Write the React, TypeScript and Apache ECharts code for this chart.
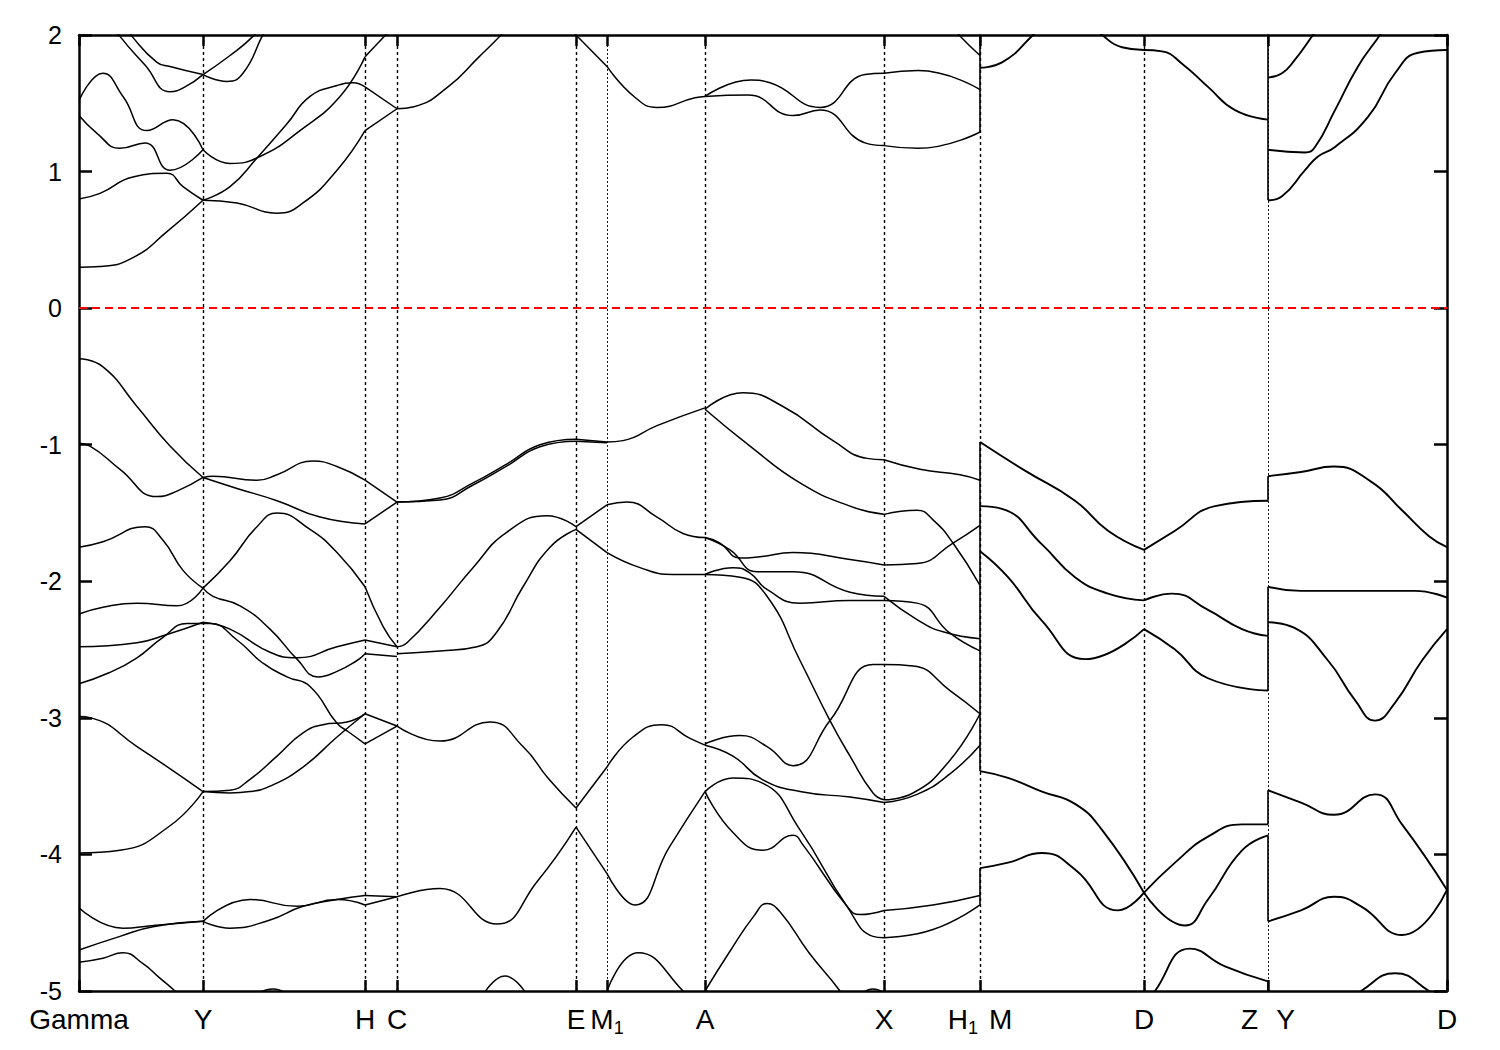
import React, { useEffect, useRef } from "react";
import * as echarts from "echarts";

type Pt = [number, number];

const FONT = "'Liberation Sans', Arial, Helvetica, sans-serif";

// k-path positions of the high-symmetry points and their labels
const kTicks = [0, 124, 286, 318, 497, 528, 626, 805, 901, 1065, 1189, 1368];
const kLabels = ["Gamma", "Y", "H", "C", "E", "M{s|1}", "A", "X", "H{s|1}{g| }M", "D", "Z{g2| }Y", "D"];
const heavyLines = [124, 286, 318, 497, 626, 805, 901, 1065];
const fineLines = [528, 1189];
const energyMin = -5;
const energyMax = 2;
const energyStep = 1;
const fermiLevel = 0;

// ---------- conduction bands ----------
const cbGY1: Pt[] = [[0, 0.3], [21, 0.305], [54, 0.37], [88, 0.56], [124, 0.79], [158, 0.77], [198, 0.695], [224, 0.77], [258, 1.01], [286, 1.3], [318, 1.46], [335, 1.475], [369, 1.62], [400, 1.84], [422, 2.0], [440, 2.15]];
const cbGY2: Pt[] = [[0, 0.8], [21, 0.84], [54, 0.96], [88, 0.987], [104, 0.89], [124, 0.79], [151, 0.89], [178, 1.1], [208, 1.35], [231, 1.55], [258, 1.63], [274, 1.65], [286, 1.62], [318, 1.46]];
const cbGY3: Pt[] = [[0, 1.41], [18, 1.28], [41, 1.17], [66, 1.21], [91, 1.01], [124, 1.16], [151, 1.06], [181, 1.11], [221, 1.3], [261, 1.55], [286, 1.84], [313, 2.05]];
const cbGY4: Pt[] = [[0, 1.52], [24, 1.72], [44, 1.55], [68, 1.3], [94, 1.38], [124, 1.16]];
const cbGY5: Pt[] = [[21, 2.2], [41, 1.99], [66, 1.78], [91, 1.585], [106, 1.62], [124, 1.71], [151, 1.85], [174, 1.99], [186, 2.1]];
const cbGY6: Pt[] = [[45, 2.08], [53, 1.99], [78, 1.8], [91, 1.77], [124, 1.71], [148, 1.66], [164, 1.72], [183, 1.99], [190, 2.1]];
const cbEA: Pt[] = [[480, 2.12], [497, 2.0], [528, 1.77], [555, 1.55], [578, 1.47], [616, 1.54], [626, 1.55]];
const cbAX1: Pt[] = [[626, 1.55], [672, 1.67], [691, 1.65], [741, 1.47], [786, 1.71], [805, 1.72], [839, 1.74], [901, 1.6]];
const cbAX2: Pt[] = [[626, 1.55], [669, 1.56], [714, 1.41], [741, 1.45], [786, 1.21], [805, 1.19], [839, 1.17], [901, 1.29]];
const cbXH: Pt[] = [[874, 2.06], [880, 2.0], [901, 1.85]];
const cbMD1: Pt[] = [[901, 1.76], [923, 1.8], [954, 2.0], [960, 2.06]];
const cbMD2: Pt[] = [[1015, 2.06], [1023, 2.0], [1043, 1.91], [1065, 1.89], [1083, 1.88], [1103, 1.79], [1129, 1.62], [1156, 1.45], [1189, 1.38]];
const cbYD1: Pt[] = [[1189, 1.69], [1203, 1.72], [1216, 1.82], [1234, 2.0], [1240, 2.06]];
const cbYD2: Pt[] = [[1189, 1.16], [1226, 1.14], [1236, 1.18], [1256, 1.45], [1279, 1.77], [1301, 2.0], [1306, 2.06]];
const cbYD3: Pt[] = [[1189, 0.79], [1203, 0.82], [1226, 1.01], [1239, 1.11], [1256, 1.18], [1289, 1.4], [1316, 1.72], [1339, 1.87], [1368, 1.89]];

// ---------- valence bands: Gamma - Y - H - C ----------
const vbG1: Pt[] = [[0, -0.37], [24, -0.43], [58, -0.72], [91, -1.01], [124, -1.24]];
const vbG2: Pt[] = [[0, -0.99], [11, -1.01], [41, -1.18], [78, -1.38], [98, -1.34], [124, -1.24]];
const vbY1: Pt[] = [[124, -1.24], [134, -1.23], [178, -1.26], [198, -1.22], [234, -1.12], [258, -1.16], [286, -1.26], [318, -1.42]];
const vbY2: Pt[] = [[124, -1.24], [158, -1.32], [198, -1.41], [241, -1.53], [286, -1.58], [318, -1.42]];
const vbG3: Pt[] = [[0, -1.75], [24, -1.71], [66, -1.6], [84, -1.7], [104, -1.92], [124, -2.05], [134, -2.11], [161, -2.18], [191, -2.35], [218, -2.57], [239, -2.7], [258, -2.66], [278, -2.58], [286, -2.53], [318, -2.55]];
const vbG4: Pt[] = [[0, -2.24], [24, -2.19], [58, -2.16], [98, -2.18], [124, -2.05], [151, -1.85], [178, -1.6], [198, -1.5], [231, -1.62], [258, -1.79], [286, -2.04], [304, -2.33], [318, -2.48]];
const vbG5: Pt[] = [[0, -2.48], [58, -2.45], [88, -2.39], [124, -2.3], [151, -2.35], [191, -2.52], [218, -2.56], [258, -2.48], [286, -2.43], [318, -2.48]];
const vbG6: Pt[] = [[0, -2.75], [30, -2.67], [58, -2.56], [84, -2.41], [108, -2.31], [131, -2.31], [158, -2.43], [184, -2.6], [208, -2.7], [231, -2.77], [258, -3.04], [269, -3.1], [286, -3.19], [318, -3.06]];
const vbG7: Pt[] = [[0, -2.99], [12, -3.0], [58, -3.21], [124, -3.54]];
const vbG8: Pt[] = [[0, -3.99], [41, -3.97], [91, -3.79], [124, -3.54]];
const vbY3: Pt[] = [[124, -3.54], [151, -3.53], [171, -3.45], [198, -3.28], [224, -3.11], [244, -3.05], [268, -3.03], [286, -2.97], [318, -3.06]];
const vbY4: Pt[] = [[124, -3.54], [151, -3.55], [171, -3.54], [191, -3.5], [224, -3.36], [258, -3.14], [286, -2.97]];
const vbG9: Pt[] = [[0, -4.39], [44, -4.54], [74, -4.52], [124, -4.49], [151, -4.54], [191, -4.48], [224, -4.38], [258, -4.33], [286, -4.3], [318, -4.31]];
const vbG10: Pt[] = [[0, -4.7], [41, -4.6], [74, -4.53], [124, -4.49], [171, -4.33], [218, -4.38], [258, -4.33], [286, -4.37], [318, -4.31]];
const vbG11: Pt[] = [[0, -4.79], [24, -4.76], [44, -4.72], [64, -4.8], [80, -4.9], [96, -5.0], [104, -5.06]];
const vbY5: Pt[] = [[176, -5.03], [194, -4.985], [210, -5.03]];

// ---------- valence bands: C - E - M1 - A ----------
const vbC1a: Pt[] = [[318, -1.42], [361, -1.39], [394, -1.28], [428, -1.14], [461, -1.0], [497, -0.96], [528, -0.98], [544, -0.97], [578, -0.86], [626, -0.73]];
const vbC1b: Pt[] = [[318, -1.42], [361, -1.405], [394, -1.295], [428, -1.155], [461, -1.015], [497, -0.975], [528, -0.985]];
const vbC2: Pt[] = [[318, -2.48], [328, -2.45], [361, -2.19], [394, -1.9], [428, -1.64], [468, -1.52], [497, -1.6], [528, -1.44], [548, -1.42], [578, -1.53], [604, -1.65], [626, -1.68]];
const vbC3: Pt[] = [[318, -2.53], [361, -2.51], [398, -2.48], [418, -2.37], [444, -2.04], [471, -1.75], [497, -1.62], [528, -1.79], [561, -1.9], [594, -1.95], [626, -1.95]];
const vbC4: Pt[] = [[318, -3.06], [361, -3.17], [411, -3.03], [444, -3.21], [470, -3.45], [497, -3.66], [528, -3.36], [554, -3.14], [583, -3.05], [611, -3.15], [626, -3.2]];
const vbC5: Pt[] = [[318, -4.31], [361, -4.25], [418, -4.51], [458, -4.2], [497, -3.8], [528, -4.14], [556, -4.37], [590, -3.95], [626, -3.54]];
const vbC6: Pt[] = [[404, -5.03], [426, -4.89], [448, -5.03]];
const vbC7: Pt[] = [[522, -5.1], [528, -5.0], [559, -4.72], [604, -5.0], [610, -5.1]];

// ---------- valence bands: A - X - H1 ----------
const vbA1: Pt[] = [[626, -0.74], [664, -0.62], [704, -0.72], [754, -0.97], [788, -1.1], [805, -1.11], [841, -1.18], [881, -1.22], [901, -1.26]];
const vbA2: Pt[] = [[626, -0.74], [671, -1.01], [721, -1.28], [771, -1.45], [805, -1.51], [838, -1.48], [854, -1.55], [874, -1.72], [901, -2.03]];
const vbA3: Pt[] = [[626, -1.68], [641, -1.72], [661, -1.83], [681, -1.82], [714, -1.79], [771, -1.84], [805, -1.88], [838, -1.87], [874, -1.72], [901, -1.59]];
const vbA4: Pt[] = [[626, -1.68], [651, -1.77], [678, -1.93], [714, -1.93], [771, -2.08], [805, -2.11], [838, -2.28], [864, -2.37], [901, -2.42]];
const vbA5: Pt[] = [[626, -1.95], [654, -1.9], [671, -1.94], [688, -2.06], [721, -2.16], [771, -2.14], [805, -2.14], [838, -2.16], [871, -2.38], [901, -2.51]];
const vbA6: Pt[] = [[626, -1.95], [661, -1.97], [688, -2.11], [721, -2.58], [751, -3.02], [771, -3.28], [794, -3.55], [805, -3.6], [834, -3.55], [871, -3.31], [901, -2.97]];
const vbA7: Pt[] = [[626, -3.19], [661, -3.13], [688, -3.21], [714, -3.35], [751, -3.02], [794, -2.61], [805, -2.61], [834, -2.62], [871, -2.8], [901, -2.97]];
const vbA8: Pt[] = [[626, -3.2], [654, -3.28], [683, -3.45], [721, -3.54], [771, -3.58], [805, -3.62], [838, -3.56], [871, -3.41], [901, -3.2]];
const vbA9: Pt[] = [[626, -3.54], [654, -3.44], [684, -3.48], [721, -3.82], [768, -4.38], [794, -4.6], [805, -4.61], [854, -4.55], [901, -4.37]];
const vbA10: Pt[] = [[626, -3.54], [654, -3.84], [684, -3.97], [714, -3.86], [724, -3.93], [768, -4.38], [781, -4.44], [805, -4.41], [854, -4.37], [901, -4.3]];
const vbA11: Pt[] = [[626, -5.0], [650, -4.72], [675, -4.45], [688, -4.36], [701, -4.42], [730, -4.72], [761, -5.0], [768, -5.1]];
const vbA12: Pt[] = [[781, -5.03], [794, -4.985], [808, -5.03]];

// ---------- valence bands: M - D - Z ----------
const vbM1: Pt[] = [[901, -0.98], [946, -1.19], [996, -1.41], [1029, -1.63], [1065, -1.77], [1096, -1.63], [1136, -1.45], [1189, -1.41]];
const vbM2: Pt[] = [[901, -1.45], [923, -1.47], [963, -1.73], [996, -1.97], [1029, -2.09], [1065, -2.14], [1093, -2.09], [1129, -2.21], [1163, -2.35], [1189, -2.4]];
const vbM3: Pt[] = [[901, -1.78], [929, -1.97], [963, -2.29], [1006, -2.57], [1065, -2.35], [1096, -2.5], [1129, -2.71], [1189, -2.8]];
const vbM4: Pt[] = [[901, -3.39], [929, -3.44], [963, -3.54], [996, -3.63], [1023, -3.82], [1065, -4.28], [1106, -4.52], [1129, -4.33], [1163, -3.97], [1189, -3.86]];
const vbM5: Pt[] = [[901, -4.1], [929, -4.06], [963, -3.99], [996, -4.11], [1039, -4.41], [1065, -4.28], [1096, -4.06], [1129, -3.87], [1163, -3.78], [1189, -3.78]];
const vbM6: Pt[] = [[1070, -5.1], [1076, -5.0], [1111, -4.69], [1146, -4.82], [1189, -4.93]];

// ---------- valence bands: Y - D ----------
const vbD1: Pt[] = [[1189, -1.23], [1222, -1.2], [1255, -1.16], [1292, -1.27], [1323, -1.48], [1350, -1.67], [1368, -1.75]];
const vbD2: Pt[] = [[1189, -2.04], [1222, -2.07], [1282, -2.07], [1336, -2.07], [1368, -2.12]];
const vbD3: Pt[] = [[1189, -2.3], [1215, -2.34], [1249, -2.58], [1276, -2.87], [1296, -3.02], [1316, -2.89], [1343, -2.58], [1368, -2.35]];
const vbD4: Pt[] = [[1189, -3.53], [1222, -3.62], [1255, -3.71], [1296, -3.56], [1323, -3.78], [1368, -4.26]];
const vbD5: Pt[] = [[1189, -4.49], [1222, -4.41], [1255, -4.31], [1282, -4.38], [1323, -4.59], [1368, -4.26]];
const vbD6: Pt[] = [[1276, -5.05], [1282, -5.0], [1316, -4.87], [1350, -5.0], [1356, -5.05]];

// vertical jumps at the path discontinuities
const jumps: Pt[][] = [
  [[901, 1.29], [901, 2.2]],
  [[901, -0.98], [901, -3.39]],
  [[901, -4.1], [901, -4.37]],
  [[1189, 0.79], [1189, 2.2]],
  [[1189, -1.23], [1189, -1.41]],
  [[1189, -2.04], [1189, -2.8]],
  [[1189, -3.53], [1189, -3.78]],
  [[1189, -3.86], [1189, -4.49]],
  [[1189, -4.93], [1189, -5.2]],
];

const thinBands: Pt[][] = [
  cbGY1, cbGY2, cbGY3, cbGY4, cbGY5, cbGY6, cbEA, cbAX1, cbAX2, cbXH,
  vbG1, vbG2, vbY1, vbY2, vbG3, vbG4, vbG5, vbG6, vbG7, vbG8, vbY3, vbY4, vbG9, vbG10, vbG11, vbY5,
  vbC1a, vbC1b, vbC2, vbC3, vbC4, vbC5, vbC6, vbC7,
  vbA1, vbA2, vbA3, vbA4, vbA5, vbA6, vbA7, vbA8, vbA9, vbA10, vbA11, vbA12,
];
const thickBands: Pt[][] = [
  cbMD1, cbMD2, cbYD1, cbYD2, cbYD3,
  vbM1, vbM2, vbM3, vbM4, vbM5, vbM6,
  vbD1, vbD2, vbD3, vbD4, vbD5, vbD6,
];

function splitAtTicks(band: Pt[]): Pt[][] {
  const pieces: Pt[][] = [];
  let cur: Pt[] = [band[0]];
  for (let i = 1; i < band.length; i++) {
    cur.push(band[i]);
    if (i < band.length - 1 && kTicks.indexOf(band[i][0]) >= 0) {
      pieces.push(cur);
      cur = [band[i]];
    }
  }
  pieces.push(cur);
  return pieces;
}

function bandSeries(bands: Pt[][], width: number) {
  const out: any[] = [];
  bands.forEach((b) => {
    splitAtTicks(b).forEach((piece) => {
      out.push({
        type: "line",
        data: piece,
        smooth: 0.5,
        symbol: "none",
        silent: true,
        clip: true,
        z: 3,
        lineStyle: { color: "#000", width },
      });
    });
  });
  return out;
}

export default function App() {
  const ref = useRef<HTMLDivElement>(null);
  useEffect(() => {
    if (!ref.current) return;
    const chart = echarts.init(ref.current, undefined, { renderer: "svg" });
    const labelFor = (v: number) => {
      const i = kTicks.findIndex((t) => Math.abs(t - v) < 0.5);
      return i >= 0 ? kLabels[i] : "";
    };
    const markData: any[] = [
      ...heavyLines.map((k) => ({ xAxis: k, lineStyle: { color: "#000", width: 1.4, type: [3, 3] } })),
      ...fineLines.map((k) => ({ xAxis: k, lineStyle: { color: "#000", width: 0.9, type: [2, 2] } })),
      { yAxis: fermiLevel, lineStyle: { color: "#f00", width: 1.8, type: [8, 5] } },
    ];
    const series: any[] = [
      {
        type: "line",
        data: [],
        z: 1,
        markLine: {
          silent: true,
          symbol: ["none", "none"],
          label: { show: false },
          emphasis: { disabled: true },
          data: markData,
        },
      },
      ...bandSeries(thinBands, 1.5),
      ...bandSeries(thickBands, 1.9),
      ...jumps.map((j) => ({
        type: "line",
        data: j,
        symbol: "none",
        silent: true,
        clip: true,
        z: 3,
        lineStyle: { color: "#000", width: 1.6 },
      })),
    ];
    const axisLineStyle = { color: "#000", width: 2.5 };
    chart.setOption({
      animation: false,
      backgroundColor: "#fff",
      grid: { left: 79, top: 35, right: 53, bottom: 59, containLabel: false },
      xAxis: [
        {
          type: "value",
          min: kTicks[0],
          max: kTicks[kTicks.length - 1],
          position: "bottom",
          axisLine: { show: true, onZero: false, lineStyle: axisLineStyle },
          axisTick: { show: true, inside: true, length: 11, customValues: kTicks, lineStyle: axisLineStyle },
          axisLabel: {
            show: true,
            customValues: kTicks,
            formatter: (v: number) => labelFor(v),
            color: "#000",
            fontFamily: FONT,
            fontSize: 28,
            lineHeight: 36,
            margin: 10,
            rich: {
              s: { fontFamily: FONT, fontSize: 18, color: "#000", verticalAlign: "bottom", padding: [20, 0, 0, 0] },
              g: { width: 11 },
              g2: { width: 18 },
            },
          },
          splitLine: { show: false },
        },
        {
          type: "value",
          min: kTicks[0],
          max: kTicks[kTicks.length - 1],
          position: "top",
          axisLine: { show: true, onZero: false, lineStyle: axisLineStyle },
          axisTick: { show: true, inside: true, length: 11, customValues: kTicks, lineStyle: axisLineStyle },
          axisLabel: { show: false },
          splitLine: { show: false },
        },
      ],
      yAxis: [
        {
          type: "value",
          min: energyMin,
          max: energyMax,
          interval: energyStep,
          position: "left",
          axisLine: { show: true, onZero: false, lineStyle: axisLineStyle },
          axisTick: { show: true, inside: true, length: 13, lineStyle: axisLineStyle },
          axisLabel: { color: "#000", fontFamily: FONT, fontSize: 25, margin: 17 },
          splitLine: { show: false },
        },
        {
          type: "value",
          min: energyMin,
          max: energyMax,
          interval: energyStep,
          position: "right",
          axisLine: { show: true, onZero: false, lineStyle: axisLineStyle },
          axisTick: { show: true, inside: true, length: 13, lineStyle: axisLineStyle },
          axisLabel: { show: false },
          splitLine: { show: false },
        },
      ],
      series,
    });
    return () => chart.dispose();
  }, []);
  return (
    <div
      ref={ref}
      style={{ position: "absolute", left: 0, top: 0, width: 1500, height: 1050, background: "#fff" }}
    />
  );
}
